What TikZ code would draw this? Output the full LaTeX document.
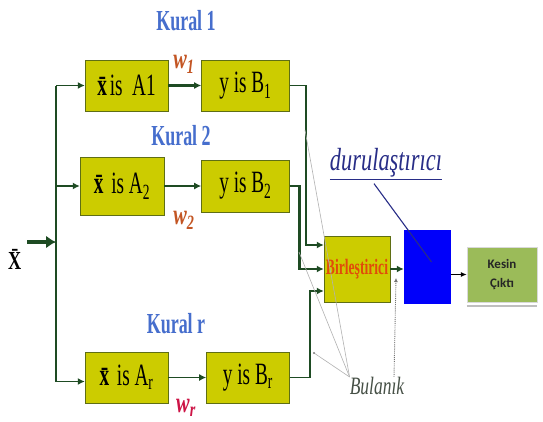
\documentclass[tikz,border=0pt]{standalone}
\usepackage{fontspec}
\setmainfont{Liberation Serif}
\newfontfamily\narrowserif[FakeStretch=0.7]{Liberation Serif}
\newfontfamily\condserif[FakeStretch=0.62]{Liberation Serif}
\newfontfamily\boxsans{Carlito}
\usetikzlibrary{arrows.meta,positioning}
\definecolor{ruleyellow}{RGB}{204,204,0}
\definecolor{ruleedge}{RGB}{95,110,20}
\definecolor{wiregreen}{RGB}{30,75,35}
\definecolor{kuralblue}{RGB}{70,110,205}
\definecolor{weightorange}{RGB}{195,85,35}
\definecolor{weightred}{RGB}{205,20,70}
\definecolor{defuzzblue}{RGB}{0,0,250}
\definecolor{crispgreen}{RGB}{155,187,89}
\definecolor{noteblue}{RGB}{40,45,135}
\definecolor{fuzzgrey}{RGB}{70,80,70}
\definecolor{combred}{RGB}{225,75,10}

\begin{document}
\begin{tikzpicture}[
  x=1pt,y=-1pt,
  >=Latex,
  rulebox/.style={draw=ruleedge,fill=ruleyellow,inner sep=0pt,
    minimum width=83pt,minimum height=51pt,
    font=\condserif\fontsize{31}{33}\selectfont},
  combbox/.style={rulebox,minimum width=66pt,minimum height=66pt,
    text=combred,font=\condserif\bfseries\fontsize{22}{24}\selectfont},
  crispbox/.style={draw=black!15,fill=crispgreen,align=center,
    minimum width=70pt,minimum height=55pt,text=black!85,
    font=\boxsans\bfseries\fontsize{13}{19}\selectfont},
  kural/.style={text=kuralblue,inner sep=0pt,
    font=\condserif\bfseries\fontsize{29}{31}\selectfont},
  weight/.style={inner sep=0pt,
    font=\narrowserif\bfseries\itshape\fontsize{29}{31}\selectfont},
  wire/.style={wiregreen,line width=1.8pt},
  flow/.style={wire,-{Latex[length=7pt,width=7pt]}},
  thickflow/.style={flow,line width=2.8pt},
  fuzzline/.style={black!30,line width=0.6pt},
  fuzzdot/.style={black!55,densely dotted,line width=0.9pt,-{Latex[length=4pt,width=4pt]}}
]
\path[use as bounding box,fill=white] (0,0) rectangle (543,421);

% kurallar
\node[rulebox] (a1) at (126.5,85.5) {\textbf{\={x}}is\ \ A1};
\node[rulebox,right=33pt of a1,minimum width=88pt] (b1) {y is B\textsubscript{1}};
\node[rulebox,minimum width=84pt,minimum height=58pt] (a2) at (122,186) {\textbf{\={x}} is A\textsubscript{2}};
\node[rulebox,right=37pt of a2,minimum width=88pt,minimum height=52pt] (b2) {y is B\textsubscript{2}};
\node[rulebox] (ar) at (126.5,377.5) {\textbf{\={x}} is A\textsubscript{r}};
\node[rulebox,right=38pt of ar] (br) {y is B\textsubscript{r}};

\node[kural] (k1) at (186,21) {Kural 1};
\node[kural] (k2) at (181,136) {Kural 2};
\node[kural] (kr) at (176,324) {Kural r};

\node[weight,text=weightorange] (w1) at (184,64) {w\textsubscript{1}};
\node[weight,text=weightorange] (w2) at (184,220) {w\textsubscript{2}};
\node[weight,text=weightred] (wr) at (186,408) {w\textsubscript{r}};

% birlestirici, durulastirici, cikti
\node[combbox] (comb) at (357,269) {Birleştirici};
\node[fill=defuzzblue,minimum width=47pt,minimum height=74pt] (defuzz) at (427.5,267) {};
\node[crispbox] (crisp) at (502,274.5) {Kesin\\Çıktı};
\draw[black!25,line width=2pt] ([yshift=-4pt]crisp.south west) -- ([yshift=-4pt]crisp.south east);

\node[text=noteblue,inner sep=0pt,font=\narrowserif\itshape\fontsize{32}{34}\selectfont] (note) at (386,163) {durulaştırıcı};
\draw[noteblue,line width=1.4pt] ([yshift=-2pt]note.south west) -- ([yshift=-2pt]note.south east);
\draw[noteblue,line width=1.1pt] ([xshift=-12pt,yshift=-6pt]note.south) -- ([xshift=4pt,yshift=5pt]defuzz.center);

\node[text=fuzzgrey,inner sep=0pt,font=\narrowserif\itshape\fontsize{25}{27}\selectfont] (bulanik) at (377,386) {Bulanık};

% giris
\node[inner sep=0pt,font=\narrowserif\fontsize{26}{28}\selectfont] (xin) at (16,259) {\textbf{\={X}}};
\coordinate (xtail) at (27,242);
\coordinate (bus) at (56,242);
\draw[wiregreen,line width=4.5pt,-{Latex[length=10pt,width=13pt]}] (xtail) -- (bus);
\draw[wire] (a1.west -| bus) -- ([yshift=-4pt]ar.west -| bus);
\draw[flow] (a1.west -| bus) -- (a1.west);
\draw[flow] (a2.west -| bus) -- (a2.west);
\draw[flow] ([yshift=-4pt]ar.west -| bus) -- ([yshift=-4pt]ar.west);

\draw[thickflow] (a1) -- (b1);
\draw[thickflow] (a2) -- (b2);
\draw[flow] (ar) -- (br);

\draw[flow] (b1.east) -- ++(16,0) |- ([yshift=24pt]comb.west);
\draw[thickflow] (b2.east) -- ++(10,0) |- (comb.west);
\draw[flow] (br.east) -- ++(20,0) |- ([yshift=-22pt]comb.west);
\draw[thickflow] (comb.east) -- (comb.east -| defuzz.west);
\draw[black,line width=1pt,-{Latex[length=6pt,width=5pt]}] (crisp.west -| defuzz.east) -- (crisp.west);

% bulanik oklar
\coordinate (fz1) at (305,130);
\coordinate (fz2) at (299,252);
\coordinate (fz3) at (314,353);
\coordinate (fzmark) at (396,278);
\draw[fuzzline] (fz1) -- (bulanik.north west);
\draw[fuzzline] (fz2) -- (bulanik.north west);
\draw[fuzzline] (fz3) -- (bulanik.north west);
\fill[black!50] (fz3) circle (1.2pt);
\draw[fuzzdot] ([xshift=17pt]bulanik.north) -- (fzmark);
\end{tikzpicture}
\end{document}
